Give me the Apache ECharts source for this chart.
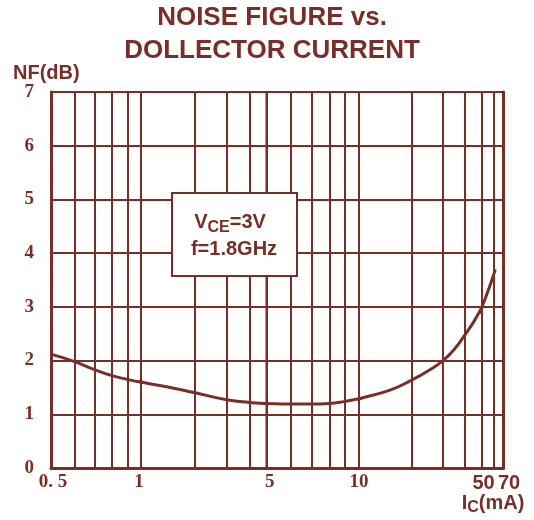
<!DOCTYPE html>
<html><head><meta charset="utf-8">
<script src="https://cdn.jsdelivr.net/npm/echarts@6/dist/echarts.min.js"></script>
<style>html,body{margin:0;padding:0;background:#fff}#c{width:534px;height:520px}</style>
</head><body><div id="c"></div>
<script>
// ---- data ----
const current = [0.5, 0.6, 0.7, 0.8, 0.9, 1, 1.5, 2, 3, 4, 5, 6, 7, 8, 9, 10, 15, 20, 25, 30, 35, 40, 45, 50, 55, 60, 61.5]; // Ic (mA)
const nf      = [2.12, 1.98, 1.83, 1.72, 1.65, 1.60, 1.49, 1.40, 1.27, 1.22, 1.20, 1.19, 1.19, 1.20, 1.24, 1.29, 1.45, 1.64, 1.82, 2.0, 2.22, 2.48, 2.73, 3.0, 3.3, 3.6, 3.7]; // NF (dB)
const xLabelValues = [0.5, 1, 5, 10, 50, 70];
const xLabelTexts  = ['0. 5', '1', '5', '10', '50', '70'];
const xGridValues  = [0.6, 0.7, 0.8, 0.9, 2, 3, 4, 6, 7, 8, 9, 20, 30, 40, 60];
const yMin = 0, yMax = 7, yStep = 1;

// ---- styling / layout ----
const C = '#7B2E27';
const SERIF = '"Liberation Serif", "Times New Roman", serif';
const SANS = '"Liberation Sans", Arial, sans-serif';
// the reference axis is piecewise logarithmic between its labelled ticks
const segEdgesPx = [51, 141, 266.7, 359, 482, 503.5];
const TOP = 92, HEIGHT = 376;

const segs = [];
for (let i = 0; i < xLabelValues.length - 1; i++) segs.push([xLabelValues[i], xLabelValues[i + 1]]);

const grids = segs.map((s, i) => ({
  left: segEdgesPx[i], width: segEdgesPx[i + 1] - segEdgesPx[i], top: TOP, height: HEIGHT,
  show: true, borderColor: C, borderWidth: 2, backgroundColor: 'transparent'
}));
const xAxes = segs.map((s, i) => ({
  type: 'log', logBase: 10, gridIndex: i, min: s[0], max: s[1],
  axisLabel: { show: false }, axisTick: { show: false }, splitLine: { show: false },
  axisLine: { show: true, lineStyle: { color: C, width: 3 } }
}));
const yAxes = segs.map((s, i) => ({
  type: 'value', gridIndex: i, min: yMin, max: yMax, interval: yStep,
  position: i === segs.length - 1 ? 'right' : 'left',
  axisLine: { show: i === 0 || i === segs.length - 1, lineStyle: { color: C, width: 3 } },
  axisTick: { show: false },
  axisLabel: { show: i === 0, color: C, fontFamily: SERIF, fontSize: 19, fontWeight: 'bold', margin: 17 },
  splitLine: { show: true, lineStyle: { color: C, width: 2 } }
}));

function labelItem(idx) {
  const sans = xLabelValues[idx] >= 50;
  const offsets = [[2, 0], [-2, 0], [3, 0], [0, 0], [1.5, 0], [5.5, 0]];
  return {
    xAxis: xLabelValues[idx],
    label: {
      show: true, position: 'start', distance: 5, formatter: xLabelTexts[idx],
      color: C, fontFamily: sans ? SANS : SERIF, fontSize: sans ? 20 : 19, fontWeight: 'bold',
      offset: offsets[idx]
    }
  };
}

const series = segs.map((s, i) => {
  // points inside the segment plus one neighbour on each side (clipped by the grid)
  let first = current.findIndex(x => x >= s[0]);
  let last = current.length - 1;
  while (current[last] > s[1]) last--;
  first = Math.max(0, first - 1);
  last = Math.min(current.length - 1, last + 1);
  const data = [];
  for (let k = first; k <= last; k++) data.push([current[k], nf[k]]);
  const ml = xGridValues.filter(v => v > s[0] && v < s[1]).map(v => ({ xAxis: v }));
  ml.push(labelItem(i));
  if (i === segs.length - 1) ml.push(labelItem(i + 1));
  return {
    type: 'line', xAxisIndex: i, yAxisIndex: i, data, smooth: 0.5, clip: true, showSymbol: false, z: 4,
    lineStyle: { color: C, width: 3 }, itemStyle: { color: C },
    markLine: {
      silent: true, z: 1, symbol: ['none', 'none'], animation: false,
      label: { show: false },
      lineStyle: { color: C, width: 2, type: 'solid' },
      data: ml
    }
  };
});

const txt = (o) => Object.assign({ type: 'text', z: 100, silent: true }, o);
const graphic = [
  txt({ style: { text: 'NOISE FIGURE vs.\nDOLLECTOR CURRENT', x: 272, y: 2, align: 'center', textAlign: 'center',
    verticalAlign: 'top', textVerticalAlign: 'top', fontSize: 26, fontWeight: 'bold', fontFamily: SANS, lineHeight: 32.5, fill: C } }),
  txt({ style: { text: 'NF(dB)', x: 13, y: 73.7, verticalAlign: 'middle', textVerticalAlign: 'middle',
    fontSize: 20, fontWeight: 'bold', fontFamily: SANS, fill: C } }),
  txt({ style: { text: '{m|I}{s|C}{m|(mA)}', x: 461.7, y: 503.4, verticalAlign: 'middle', textVerticalAlign: 'middle', fill: C,
    rich: { m: { fontSize: 20, fontWeight: 'bold', fontFamily: SANS, fill: C, lineHeight: 24, verticalAlign: 'middle' },
            s: { fontSize: 16, fontWeight: 'bold', fontFamily: SANS, fill: C, lineHeight: 16, verticalAlign: 'bottom' } } } }),
  { type: 'rect', z: 99, silent: true, shape: { x: 172, y: 193, width: 125, height: 83 },
    style: { fill: '#fff', stroke: C, lineWidth: 2 } },
  txt({ style: { text: '{m|V}{s|CE}{m|=3V}', x: 230, y: 222.5, align: 'center', textAlign: 'center', verticalAlign: 'middle', textVerticalAlign: 'middle', fill: C,
    rich: { m: { fontSize: 20, fontWeight: 'bold', fontFamily: SANS, fill: C, lineHeight: 26, verticalAlign: 'middle' },
            s: { fontSize: 16, fontWeight: 'bold', fontFamily: SANS, fill: C, lineHeight: 13, verticalAlign: 'bottom' } } } }),
  txt({ style: { text: 'f=1.8GHz', x: 234, y: 249.5, align: 'center', textAlign: 'center', verticalAlign: 'middle', textVerticalAlign: 'middle',
    fontSize: 20, fontWeight: 'bold', fontFamily: SANS, fill: C } })
];

const chart = echarts.init(document.getElementById('c'), null, { renderer: 'canvas' });
chart.setOption({
  animation: false,
  backgroundColor: '#fff',
  grid: grids, xAxis: xAxes, yAxis: yAxes, series, graphic
});
</script></body></html>
